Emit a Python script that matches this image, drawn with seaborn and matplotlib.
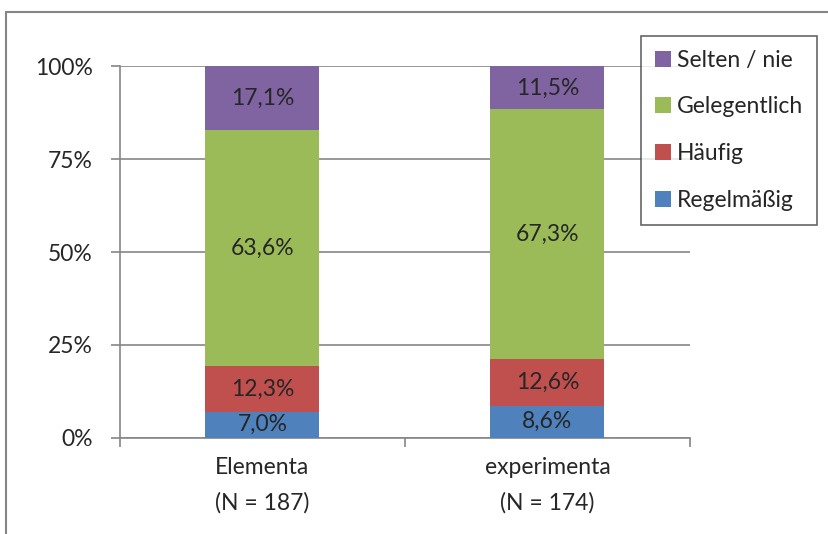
import numpy as np
import pandas as pd
import matplotlib
matplotlib.use("Agg")
import matplotlib.pyplot as plt
from matplotlib.lines import Line2D
from matplotlib.patches import Patch
import seaborn as sns

# Data: share of answers per material (percent)
groups = ["Elementa\n(N = 187)", "experimenta\n(N = 174)"]
categories = ["Regelmäßig", "Häufig", "Gelegentlich", "Selten / nie"]
regelmaessig = [7.0, 8.6]
haeufig = [12.3, 12.6]
gelegentlich = [63.6, 67.3]
selten = [17.1, 11.5]
colors = ["#4F81BD", "#C0504D", "#9BBB59", "#8064A2"]
y_ticks = [0, 25, 50, 75, 100]
y_tick_labels = ["0%", "25%", "50%", "75%", "100%"]

sns.set_style("white")
plt.rcParams["font.family"] = ["Lato", "DejaVu Sans"]
text_color = "#262626"
axis_color = "#868686"
fs = 16.5

values = np.array([regelmaessig, haeufig, gelegentlich, selten])
cum = np.cumsum(values, axis=0)

fig = plt.figure(figsize=(8.29, 5.34), dpi=100)
ax = fig.add_axes([120 / 829, 1 - 437.7 / 534, 570 / 829, (437.7 - 66.5) / 534])

# Stack by overdrawing cumulative totals, tallest first
for i in range(len(categories) - 1, -1, -1):
    df = pd.DataFrame({"group": groups, "value": cum[i]})
    sns.barplot(data=df, x="group", y="value", color=colors[i], width=0.4,
                saturation=1, ax=ax, zorder=3, edgecolor="none", linewidth=0)

# Segment value labels
for i in range(len(categories)):
    for j in range(len(groups)):
        mid = cum[i][j] - values[i][j] / 2
        ax.text(j, mid, f"{values[i][j]:.1f}%".replace(".", ","),
                ha="center", va="center", fontsize=fs, color=text_color, zorder=5)

ax.set_xlim(-0.5, 1.5)
ax.set_ylim(0, 100)
ax.set_yticks(y_ticks)
ax.set_yticklabels(y_tick_labels)
ax.set_xticks(range(len(groups)))
ax.set_xticklabels(groups, linespacing=1.78)
ax.yaxis.grid(True, color=axis_color, linewidth=1.2, zorder=0)
ax.set_axisbelow(True)
ax.set_xlabel("")
ax.set_ylabel("")

for side in ["top", "right"]:
    ax.spines[side].set_visible(False)
for side in ["left", "bottom"]:
    ax.spines[side].set_color(axis_color)
    ax.spines[side].set_linewidth(1.2)

ax.tick_params(axis="y", which="major", direction="out", length=6.5, width=1.2,
               color=axis_color, pad=13, labelsize=fs, labelcolor=text_color, left=True)
ax.set_xticks([-0.5, 0.5, 1.5], minor=True)
ax.tick_params(axis="x", which="minor", direction="out", length=6.5, width=1.2,
               color=axis_color, bottom=True)
ax.tick_params(axis="x", which="major", length=0, pad=14, labelsize=fs,
               labelcolor=text_color)

# Legend, top entry first
handles = [Patch(facecolor=colors[i], edgecolor="none") for i in range(3, -1, -1)]
labels = [categories[i] for i in range(3, -1, -1)]
leg = fig.legend(handles, labels, loc="upper left",
                 bbox_to_anchor=(641 / 829, 1 - 36 / 534), frameon=True,
                 fancybox=False, fontsize=fs, handlelength=0.7, handleheight=0.7,
                 handletextpad=0.28, labelspacing=1.12, borderpad=0.6,
                 borderaxespad=0)
leg.get_frame().set_edgecolor("#404040")
leg.get_frame().set_linewidth(1.2)
for t in leg.get_texts():
    t.set_color(text_color)

# Chart frame
fig.add_artist(Line2D([6 / 829, 6 / 829], [0, 1 - 12 / 534],
                      transform=fig.transFigure, color=axis_color, linewidth=1.5))
fig.add_artist(Line2D([6 / 829, 1], [1 - 12 / 534, 1 - 12 / 534],
                      transform=fig.transFigure, color=axis_color, linewidth=1.5))

fig.savefig("out.png", dpi=100, facecolor="white")
